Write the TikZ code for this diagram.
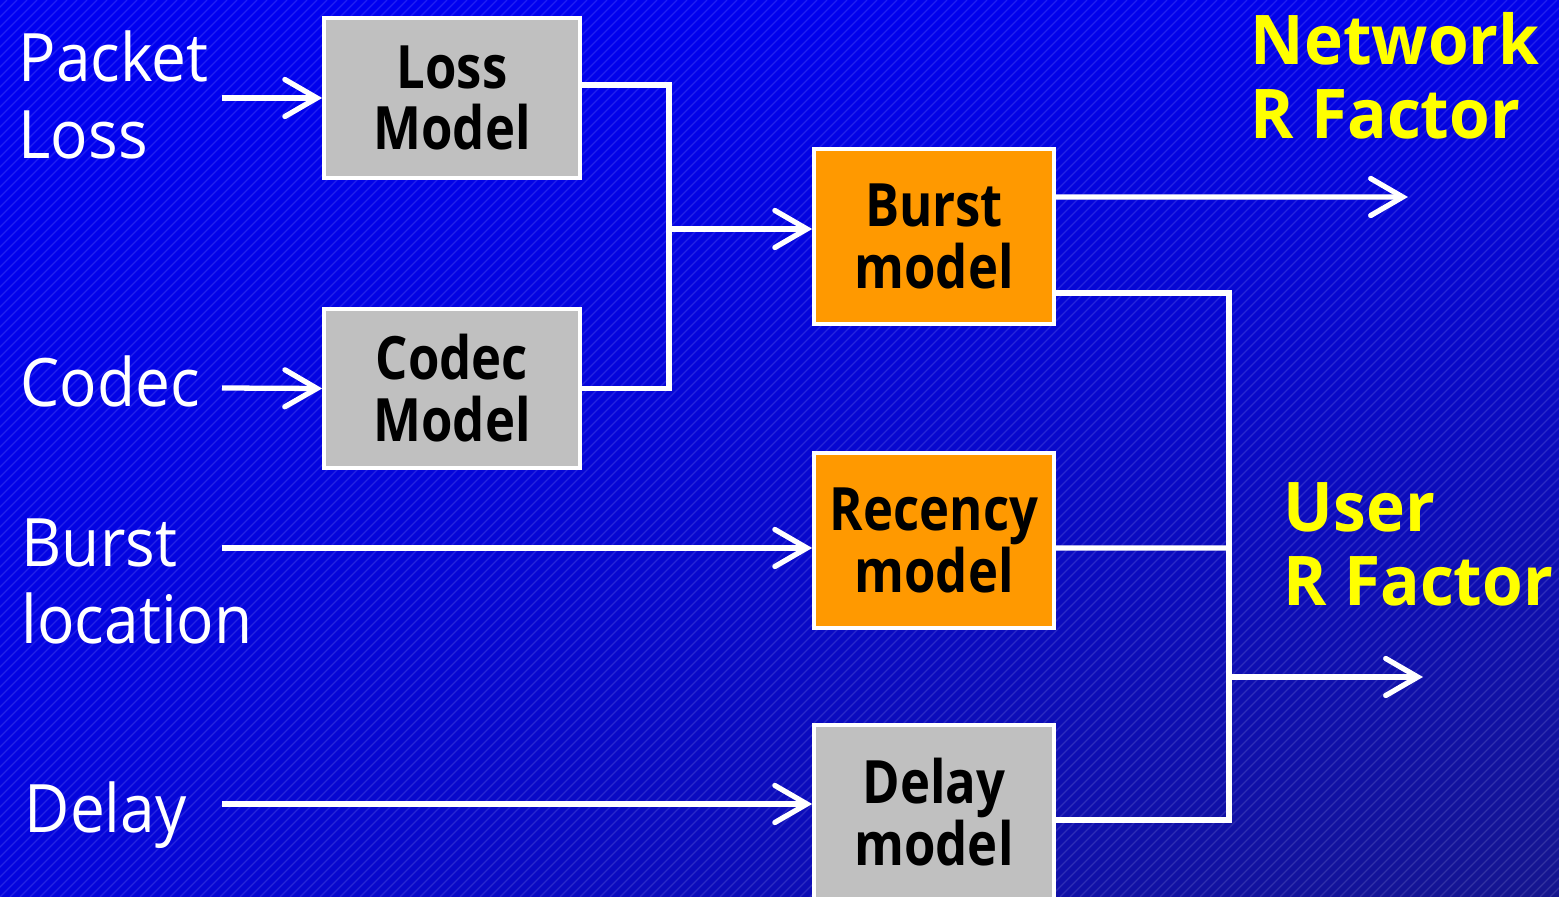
\documentclass[tikz,border=0pt]{standalone}
\usepackage{fontspec}
\setmainfont{Open Sans}
\newfontfamily\narrowsans[FakeStretch=0.85]{Open Sans}
\newfontfamily\labelsans[FakeStretch=0.93]{Open Sans}
\newfontfamily\titlesans[FakeStretch=0.96]{Open Sans}
\usetikzlibrary{arrows.meta, positioning, calc, shadings}
\definecolor{slideblue}{HTML}{0000F2}
\definecolor{slidenavy}{HTML}{16168E}
\definecolor{modelgray}{HTML}{C0C0C0}
\definecolor{modelorange}{HTML}{FF9900}
\definecolor{titleyellow}{HTML}{FFFF00}

\tikzset{
  model/.style={draw=white, line width=1pt, text=black, align=center,
    font=\narrowsans\fontsize{17}{17.6}\selectfont\bfseries,
    minimum width=2.56cm, minimum height=1.6cm, inner sep=0pt},
  inlabel/.style={text=white, anchor=west, align=left, inner sep=0pt,
    font=\labelsans\fontsize{19}{21.9}\selectfont},
  outlabel/.style={text=titleyellow, anchor=west, align=left, inner sep=0pt,
    font=\titlesans\fontsize{19.5}{21}\selectfont\bfseries},
  wire/.style={white, line width=1.5pt},
  flow/.style={wire, -{Straight Barb[length=0.32cm, width=0.37cm, line cap=round]}},
}

\begin{document}
\begin{tikzpicture}[x=0.01cm, y=-0.01cm]
  \useasboundingbox (0,0) rectangle (1559,897);

  % background with faint diagonal hatching
  \shade[upper left=slideblue, upper right=slideblue!92!slidenavy,
         lower left=slideblue!80!slidenavy, lower right=slidenavy]
    (0,0) rectangle (1559,897);
  \begin{scope}
    \clip (0,0) rectangle (1559,897);
    \foreach \i in {-900,-890,...,1560}
      \draw[white, opacity=0.13, line width=0.35pt] (\i,897) -- ++(897,-897);
  \end{scope}

  % models
  \node[model, fill=modelgray] (loss) at (452,98) {Loss\\Model};
  \node[model, fill=modelgray, minimum height=1.59cm] (codec) at (452,388.5) {Codec\\Model};
  \node[model, fill=modelorange, minimum width=2.4cm, minimum height=1.75cm] (burst) at (934,236.5) {Burst\\model};
  \node[model, fill=modelorange, minimum width=2.4cm, minimum height=1.75cm] (recency) at (934,540.5) {Recency\\model};
  \node[model, fill=modelgray, minimum width=2.4cm, minimum height=1.75cm] (delay) at (934,812.5) {Delay\\model};

  % inputs
  \node[inlabel] (pktloss) at (18,95) {Packet\\Loss};
  \node[inlabel] (codecin) at (20,381) {Codec};
  \node[inlabel] (burstloc) at (21,581) {Burst\\location};
  \node[inlabel] (delayin) at (24,815) {Delay};

  % outputs
  \node[outlabel] (netr) at (1250,76) {Network\\R Factor};
  \node[outlabel] (userr) at (1283,544) {User\\R Factor};

  % junction points
  \coordinate (merge) at (669,229);
  \coordinate (collect) at (1229,677);
  \coordinate (netend) at (1408,197);
  \coordinate (userend) at (1423,677);

  % input arrows
  \draw[flow] (222,98) -- (loss.west);
  \draw[flow] (222,388) -- (codec.west);
  \draw[flow] (222,548) -- (recency.west |- 0,548);
  \draw[flow] (222,804) -- (delay.west |- 0,804);

  % loss and codec into burst
  \draw[wire] ([yshift=0.13cm]loss.east) -| (merge) |- (codec.east);
  \draw[flow] (merge) -- (burst.west |- merge);

  % outputs
  \draw[flow] ([yshift=0.395cm]burst.east) -- (netend);
  \draw[wire] ([yshift=-0.565cm]burst.east) -| (collect)
    |- ([yshift=-0.075cm]delay.east);
  \draw[wire] ([yshift=-0.075cm]recency.east) -- (collect |- 0,548);
  \draw[flow] (collect) -- (userend);
\end{tikzpicture}
\end{document}
